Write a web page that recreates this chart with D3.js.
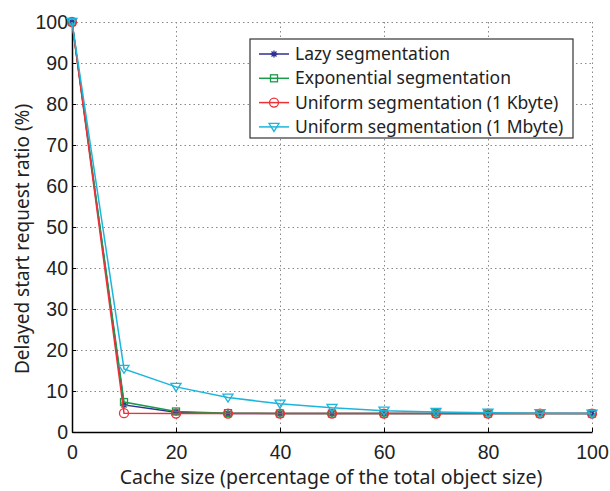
<!DOCTYPE html>
<html>
<head>
<meta charset="utf-8">
<script src="https://cdn.jsdelivr.net/npm/d3@7"></script>
<style>
  body { margin: 0; background: #fff; }
  svg { font-family: "Noto Sans", sans-serif; }
  .grid line { stroke: #888; stroke-dasharray: 1.5 3; }
  .grid path { display: none; }
  .axis path, .axis line { stroke: #000; }
  .axis text { font-size: 19.5px; fill: #222; }
</style>
</head>
<body>
<svg width="610" height="491"></svg>
<script>
// cache sizes (% of total object size)
var cacheSize = [0, 10, 20, 30, 40, 50, 60, 70, 80, 90, 100];

// delayed start request ratio (%) per scheme
var lazy = [100, 6.6, 4.8, 4.5, 4.5, 4.5, 4.5, 4.5, 4.5, 4.5, 4.5];
var exponential = [100, 7.3, 5.0, 4.6, 4.5, 4.5, 4.5, 4.5, 4.5, 4.5, 4.5];
var uniform1K = [100, 4.6, 4.5, 4.5, 4.5, 4.5, 4.5, 4.5, 4.5, 4.5, 4.5];
var uniform1M = [100, 15.4, 11.0, 8.4, 6.9, 5.9, 5.2, 4.9, 4.7, 4.6, 4.5];

var seriesNames = ["Lazy segmentation", "Exponential segmentation",
                   "Uniform segmentation (1 Kbyte)", "Uniform segmentation (1 Mbyte)"];
var xTicks = [0, 20, 40, 60, 80, 100];
var yTicks = [0, 10, 20, 30, 40, 50, 60, 70, 80, 90, 100];

var svg = d3.select("svg"),
    margin = {top: 22, right: 18, bottom: 59, left: 72},
    width = svg.attr("width") - margin.left - margin.right,
    height = svg.attr("height") - margin.top - margin.bottom,
    g = svg.append("g").attr("transform", "translate(" + margin.left + "," + margin.top + ")");

var x = d3.scaleLinear().domain([0, 100]).range([0, width]),
    y = d3.scaleLinear().domain([0, 100]).range([height, 0]);

var colors = ["#2e3192", "#1a9a4b", "#ec3237", "#1cb5dc"];
var markers = ["star", "square", "circle", "triangle"];

var series = [lazy, exponential, uniform1K, uniform1M].map(function(vals, i) {
    return {
        name: seriesNames[i],
        color: colors[i],
        marker: markers[i],
        values: vals.map(function(v, j) { return {x: cacheSize[j], y: v}; })
    };
});

// gridlines
g.append("g")
    .attr("class", "grid")
    .call(d3.axisBottom(x).tickValues(xTicks).tickSize(height).tickFormat(""));
g.append("g")
    .attr("class", "grid")
    .call(d3.axisLeft(y).tickValues(yTicks).tickSize(-width).tickFormat(""));

// axes, ticks pointing inwards
g.append("g")
    .attr("class", "axis")
    .attr("transform", "translate(0," + height + ")")
    .call(d3.axisBottom(x).tickValues(xTicks).tickSizeInner(-4).tickSizeOuter(0).tickPadding(13))
    .select(".domain").attr("stroke-width", 1.5);
g.append("g")
    .attr("class", "axis")
    .call(d3.axisLeft(y).tickValues(yTicks).tickSizeInner(-4).tickSizeOuter(0).tickPadding(4))
    .select(".domain").attr("stroke-width", 1.5);

// axis titles
svg.append("text")
    .attr("x", margin.left + width / 2 - 1)
    .attr("y", 484)
    .attr("text-anchor", "middle")
    .style("font-size", "19.5px")
    .attr("fill", "#222")
    .text("Cache size (percentage of the total object size)");
svg.append("text")
    .attr("transform", "translate(29," + (margin.top + height / 2 + 12) + ") rotate(-90)")
    .attr("text-anchor", "middle")
    .style("font-size", "19px")
    .attr("fill", "#222")
    .text("Delayed start request ratio (%)");

var line = d3.line()
    .x(function(d) { return x(d.x); })
    .y(function(d) { return y(d.y); });

function drawMarker(sel, type, color) {
    if (type === "star") {
        sel.append("path")
            .attr("d", "M-3.5,0H3.5M0,-3.5V3.5M-2.5,-2.5L2.5,2.5M-2.5,2.5L2.5,-2.5")
            .attr("stroke", color).attr("stroke-width", 1.3).attr("fill", "none");
    } else if (type === "square") {
        sel.append("rect").attr("x", -3.5).attr("y", -3.5).attr("width", 7).attr("height", 7)
            .attr("stroke", color).attr("stroke-width", 1.3).attr("fill", "none");
    } else if (type === "circle") {
        sel.append("circle").attr("r", 4.5)
            .attr("stroke", color).attr("stroke-width", 1.3).attr("fill", "none");
    } else {
        sel.append("path").attr("d", "M-5,-3.5L5,-3.5L0,4.5Z")
            .attr("stroke", color).attr("stroke-width", 1.3).attr("fill", "none");
    }
}

var s = g.selectAll(".series")
    .data(series)
    .enter().append("g")
    .attr("class", "series");

s.append("path")
    .attr("fill", "none")
    .attr("stroke", function(d) { return d.color; })
    .attr("stroke-width", 1.5)
    .attr("d", function(d) { return line(d.values); });

s.each(function(d) {
    var grp = d3.select(this);
    d.values.forEach(function(p) {
        var m = grp.append("g").attr("transform", "translate(" + x(p.x) + "," + y(p.y) + ")");
        drawMarker(m, d.marker, d.color);
    });
});

// legend
var legend = svg.append("g").attr("transform", "translate(250,39)");
legend.append("rect")
    .attr("width", 323).attr("height", 99)
    .attr("fill", "#fff").attr("stroke", "#333").attr("stroke-width", 1.2);
series.forEach(function(d, i) {
    var row = legend.append("g").attr("transform", "translate(0," + (15 + i * 24.3) + ")");
    row.append("line").attr("x1", 9).attr("x2", 39)
        .attr("stroke", d.color).attr("stroke-width", 1.5);
    var m = row.append("g").attr("transform", "translate(24,0)");
    drawMarker(m, d.marker, d.color);
    row.append("text")
        .attr("x", 45).attr("dy", "0.35em")
        .style("font-size", "17.5px")
        .attr("fill", "#222")
        .text(d.name);
});
</script>
</body>
</html>
